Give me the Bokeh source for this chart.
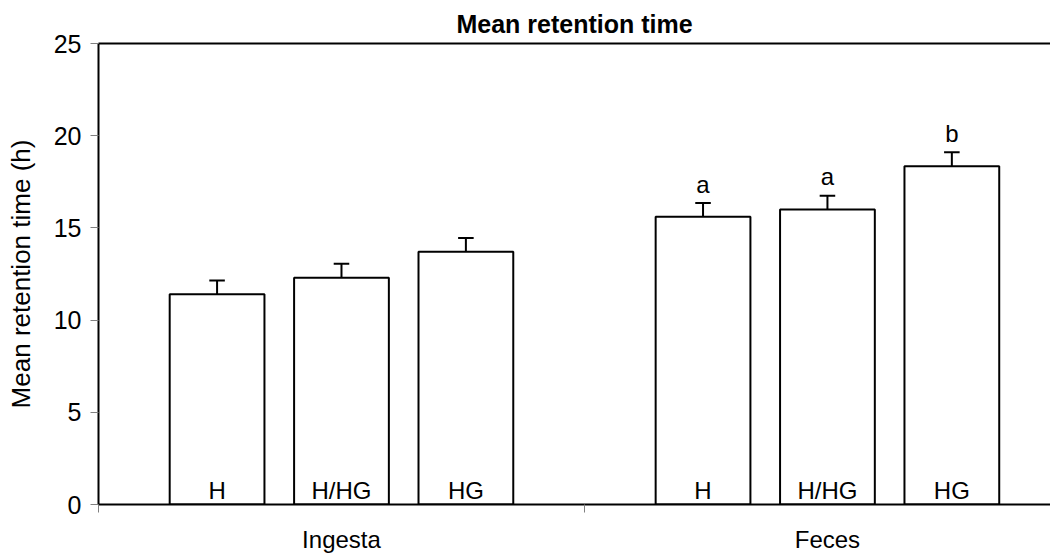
from bokeh.plotting import figure
from bokeh.models import Range1d, FixedTicker, LinearAxis, Title
from bokeh.core.properties import value
from bokeh.embed import file_html
from bokeh.resources import INLINE

# ---- data ----
groups = ["Ingesta", "Feces"]
treatments = ["H", "H/HG", "HG"]
ingesta_mean = [11.4, 12.3, 13.7]
ingesta_err = [0.75, 0.75, 0.75]
feces_mean = [15.6, 16.0, 18.35]
feces_err = [0.75, 0.75, 0.75]
feces_letters = ["a", "a", "b"]
y_ticks = [0, 5, 10, 15, 20, 25]

FONT = "Liberation Sans"

p = figure(width=1050, height=558, x_range=Range1d(0, 1.959), y_range=Range1d(0, 25),
           output_backend="svg", toolbar_location=None,
           min_border_left=98, min_border_right=0, min_border_top=43, min_border_bottom=54)
p.title = Title(text="Mean retention time", align="center", text_font=FONT,
                text_font_size="25px", text_font_style="bold", text_color="black",
                standoff=12)
p.grid.visible = False
p.outline_line_color = None
p.background_fill_color = "white"
p.border_fill_color = "white"

# y axis
ya = p.yaxis[0]
ya.ticker = FixedTicker(ticks=y_ticks, minor_ticks=[])
ya.axis_label = "Mean retention time (h)"
ya.axis_label_text_font = FONT
ya.axis_label_text_font_size = "26px"
ya.axis_label_text_font_style = "normal"
ya.axis_label_text_color = "black"
ya.axis_label_standoff = 15
ya.major_label_text_font = FONT
ya.major_label_text_font_size = "25px"
ya.major_label_text_color = "black"
ya.major_label_standoff = 9
ya.axis_line_width = 2
ya.axis_line_color = "black"
ya.major_tick_out = 8
ya.major_tick_in = 0
ya.major_tick_line_color = "#808080"
ya.major_tick_line_width = 1

# x axis
xa = p.xaxis[0]
xa.ticker = FixedTicker(ticks=[0.5, 1.5], minor_ticks=[0, 1, 2])
xa.major_label_overrides = {0.5: groups[0], 1.5: groups[1]}
xa.major_label_text_font = FONT
xa.major_label_text_font_size = "24px"
xa.major_label_text_color = "black"
xa.major_label_standoff = 13
xa.major_tick_line_color = None
xa.major_tick_out = 0
xa.major_tick_in = 0
xa.minor_tick_out = 8
xa.minor_tick_in = 0
xa.minor_tick_line_color = "#808080"
xa.minor_tick_line_width = 1
xa.axis_line_width = 2
xa.axis_line_color = "black"

# top frame line
top = LinearAxis(ticker=FixedTicker(ticks=[]), major_label_text_font_size="0px",
                 major_tick_line_color=None, minor_tick_line_color=None,
                 axis_line_width=2, axis_line_color="black")
p.add_layout(top, "above")

# bars
offsets = [-0.256, 0.0, 0.256]
bar_w = 0.195
cap_hw = 0.016
xs, tops, errs, labels = [], [], [], []
for gi, (means, es) in enumerate([(ingesta_mean, ingesta_err), (feces_mean, feces_err)]):
    for ti in range(3):
        xs.append(gi + 0.5 + offsets[ti])
        tops.append(means[ti])
        errs.append(es[ti])
        labels.append(treatments[ti])
letters = ["", "", ""] + feces_letters

ups = [t + e for t, e in zip(tops, errs)]
p.segment(x0=xs, y0=tops, x1=xs, y1=ups, line_color="black", line_width=2)
p.segment(x0=[x - cap_hw for x in xs], y0=ups, x1=[x + cap_hw for x in xs], y1=ups,
          line_color="black", line_width=2)
p.vbar(x=xs, top=tops, bottom=0, width=bar_w, fill_color="white", line_color="black", line_width=2)

p.text(x=xs, y=[0] * len(xs), text=labels, text_align="center", text_baseline="alphabetic",
       y_offset=-14, text_font=value(FONT), text_font_size="24px", text_color="black")
p.text(x=xs, y=ups, text=letters, text_align="center", text_baseline="alphabetic",
       y_offset=-19, text_font=value(FONT), text_font_size="24px", text_color="black")

open("out.html", "w").write(file_html(p, INLINE))
